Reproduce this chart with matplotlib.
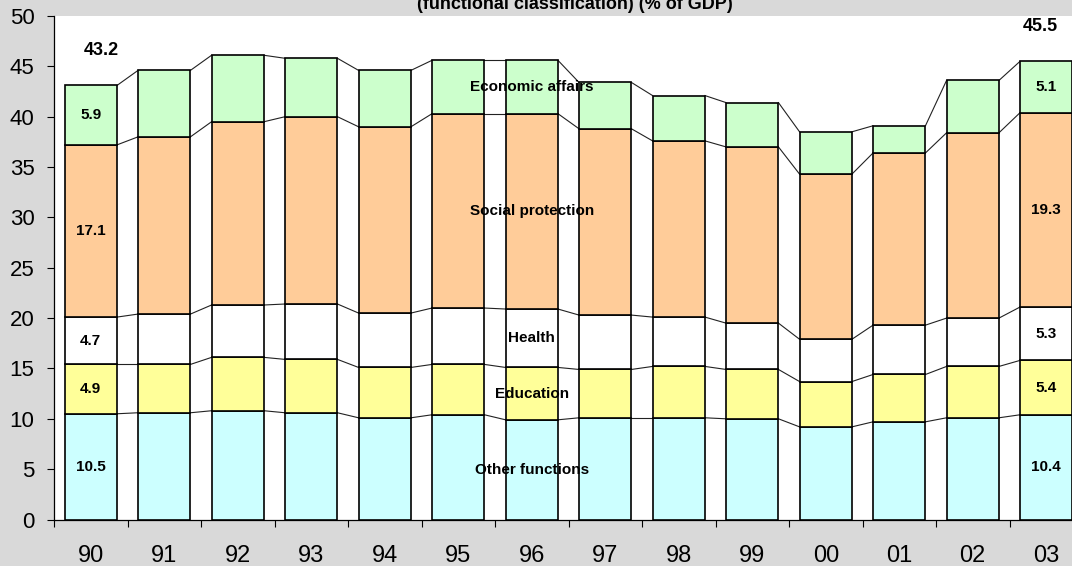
import numpy as np
import matplotlib
matplotlib.use("Agg")
import matplotlib.pyplot as plt

plt.rcParams['font.family'] = ['Liberation Sans', 'DejaVu Sans']

years = ['90', '91', '92', '93', '94', '95', '96', '97', '98', '99', '00', '01', '02', '03']
series_names = ['Other functions', 'Education', 'Health', 'Social protection', 'Economic affairs']
other_functions = [10.5, 10.6, 10.8, 10.6, 10.1, 10.4, 9.9, 10.1, 10.1, 10.0, 9.2, 9.7, 10.1, 10.4]
education = [4.9, 4.8, 5.3, 5.3, 5.0, 5.0, 5.2, 4.8, 5.1, 4.9, 4.5, 4.7, 5.1, 5.4]
health = [4.7, 5.0, 5.2, 5.5, 5.4, 5.6, 5.8, 5.4, 4.9, 4.6, 4.2, 4.9, 4.8, 5.3]
social_protection = [17.1, 17.6, 18.2, 18.6, 18.5, 19.3, 19.4, 18.5, 17.5, 17.5, 16.4, 17.1, 18.4, 19.3]
economic_affairs = [5.9, 6.6, 6.6, 5.8, 5.6, 5.3, 5.3, 4.6, 4.5, 4.4, 4.2, 2.7, 5.2, 5.1]
total_years = ['90', '03']
total_values = [43.2, 45.5]
name_year = '96'  # bar that carries the series names

colors = ['#CCFFFF', '#FFFF99', '#FFFFFF', '#FFCC99', '#CCFFCC']
BG = '#D9D9D9'

series = [other_functions, education, health, social_protection, economic_affairs]

fig = plt.figure(figsize=(10.72, 5.66), dpi=100)
fig.patch.set_facecolor(BG)
ax = fig.add_axes([54 / 1072, 46.5 / 566, 1029 / 1072, 503.5 / 566])
ax.set_facecolor('white')

x = np.arange(len(years))
w = 0.713
bottom = np.zeros(len(years))
levels = []
for vals, col in zip(series, colors):
    vals = np.array(vals)
    ax.bar(x, vals, w, bottom=bottom, color=col, edgecolor='black', linewidth=1.2, zorder=3)
    bottom = bottom + vals
    levels.append(bottom.copy())

# series lines between bars
for lev in levels:
    for i in range(len(x) - 1):
        ax.plot([x[i] + w / 2, x[i + 1] - w / 2], [lev[i], lev[i + 1]],
                color='#222222', linewidth=0.8, zorder=2)

# value labels on first and last bar
for idx in [0, len(years) - 1]:
    base = 0
    for vals in series:
        ax.text(x[idx], base + vals[idx] / 2, f"{vals[idx]:.1f}", ha='center', va='center',
                fontsize=11, fontweight='bold', zorder=5)
        base += vals[idx]

# series names on 96 bar
k = years.index(name_year)
base = 0
for name, vals in zip(series_names, series):
    ax.text(x[k], base + vals[k] / 2, name, ha='center', va='center',
            fontsize=11, fontweight='bold', zorder=5)
    base += vals[k]

# totals
offsets = [7.5, -4]
for yr, tv, dx in zip(total_years, total_values, offsets):
    i = years.index(yr)
    ax.annotate(f"{tv:.1f}", xy=(x[i], levels[-1][i]), xytext=(dx, 25),
                textcoords='offset points', ha='center', va='center',
                fontsize=13, fontweight='bold', zorder=5, annotation_clip=False)

ax.set_xlim(-0.5, len(years) - 0.5)
ax.set_ylim(0, 50)
ax.set_yticks(range(0, 51, 5))
ax.set_xticks(np.arange(-0.5, len(years), 1.0))
ax.set_xticklabels([])
ax.set_xticks(x, minor=True)
ax.set_xticklabels(years, minor=True)
ax.tick_params(axis='x', which='major', direction='out', length=5, width=0.8)
ax.tick_params(axis='x', which='minor', length=0, pad=18, labelsize=17)
ax.tick_params(axis='y', direction='out', length=5, width=0.8, pad=9, labelsize=16)
for s in ['top', 'right']:
    ax.spines[s].set_visible(False)
for s in ['left', 'bottom']:
    ax.spines[s].set_linewidth(0.9)

fig.text(574.5 / 1072, 557 / 566, "(functional classification) (% of GDP)",
         ha='center', va='baseline', fontsize=13, fontweight='bold')

fig.savefig('out.png', dpi=100, facecolor=BG)
